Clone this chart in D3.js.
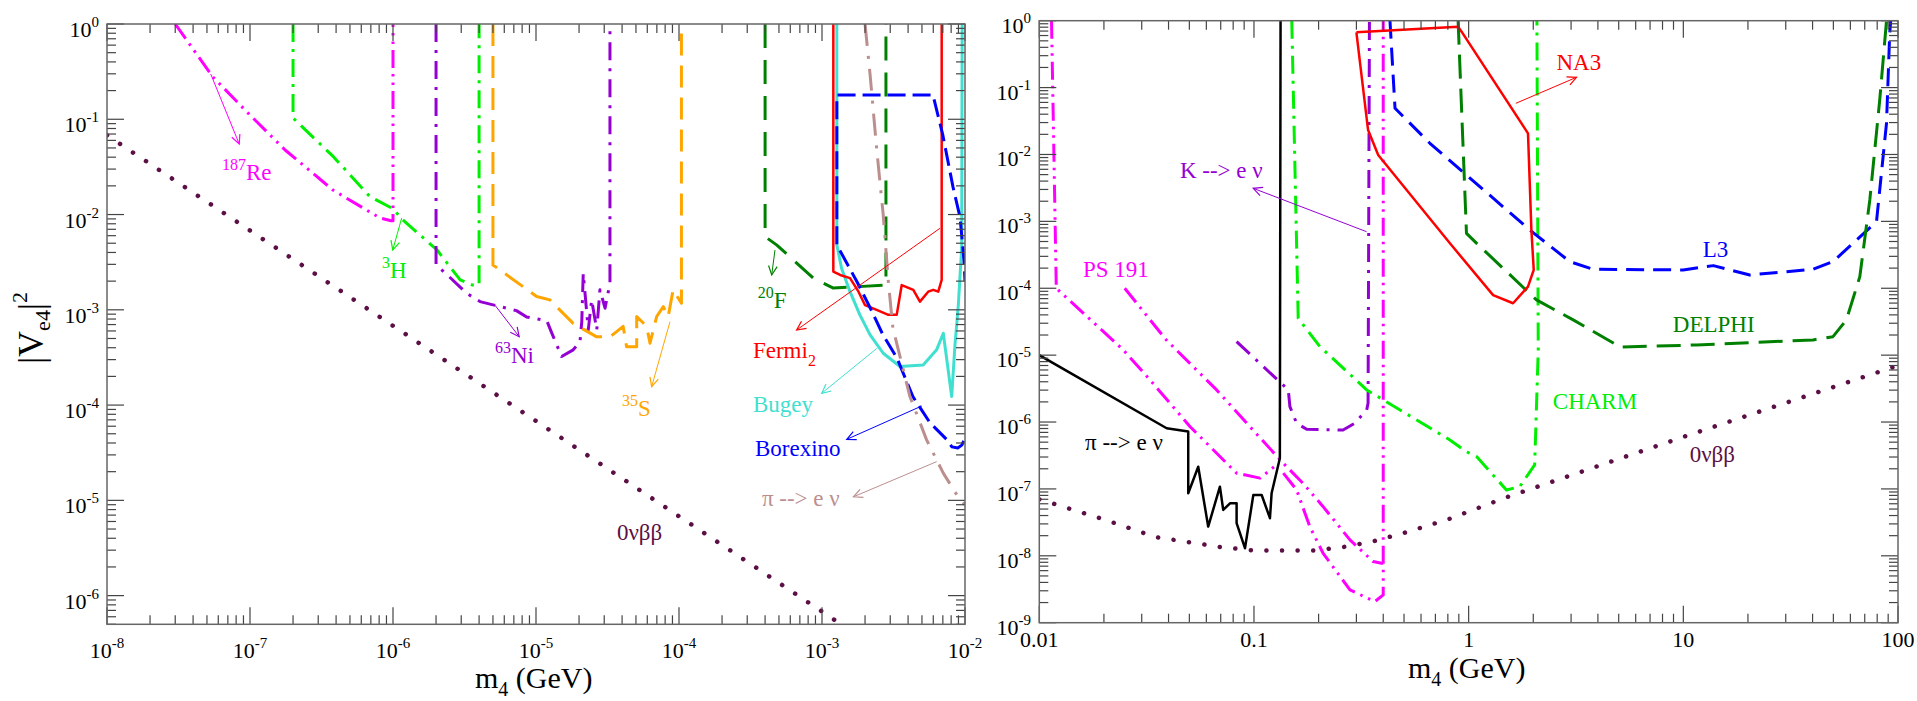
<!DOCTYPE html>
<meta charset="utf-8">
<style>
  body { margin: 0; background: #fff; }
  text { font-family: "Liberation Serif", "Times New Roman", serif; }
  .frame { fill: none; stroke: #666; stroke-width: 1.5; }
  .tick { stroke: #444; stroke-width: 1.2; }
</style>
<svg width="1917" height="701"></svg>
<script src="https://d3js.org/d3.v7.min.js"></script>
<script>

// ---------- left panel: m4 in GeV, |Ve4|^2 ----------
var leftXTicks = [1e-8, 1e-7, 1e-6, 1e-5, 1e-4, 1e-3, 1e-2];
var leftYTicks = [1, 1e-1, 1e-2, 1e-3, 1e-4, 1e-5, 1e-6];

var re187 = [[3e-8,1],[5.5e-8,0.278],[9.7e-8,0.116],[1.76e-7,0.0476],[3.8e-7,0.0181],[8.1e-7,0.0092],[9.7e-7,0.0086],[1e-6,0.0086],[1e-6,1]];
var h3 = [[2e-7,1],[2e-7,0.103],[3.83e-7,0.0405],[6.9e-7,0.0154],[1e-6,0.0115],[1.17e-6,8.8e-3],[2.03e-6,4.25e-3],[2.95e-6,2.06e-3],[3.6e-6,1.82e-3],[4e-6,1.82e-3],[4e-6,1]];
var ni63 = [[2e-6,1],[2e-6,2.96e-3],[2.44e-6,2.27e-3],[3.27e-6,1.49e-3],[4.06e-6,1.22e-3],[7.3e-6,9.8e-4],[8.6e-6,8.4e-4],[1.19e-5,7.7e-4],[1.29e-5,5.7e-4],[1.51e-5,3.23e-4],[1.82e-5,3.8e-4],[2.03e-5,4.6e-4],[2.09e-5,7.5e-4],[2.14e-5,2.42e-3],[2.32e-5,6.15e-4],[2.45e-5,1.27e-3],[2.66e-5,6.15e-4],[2.8e-5,1.62e-3],[3.04e-5,1.04e-3],[3.29e-5,1.9e-3],[3.29e-5,1]];
var s35 = [[5e-6,1],[5e-6,2.96e-3],[1.01e-5,1.38e-3],[1.25e-5,1.27e-3],[1.82e-5,7.2e-4],[2.66e-5,5.2e-4],[3.29e-5,5.2e-4],[4.07e-5,6.7e-4],[4.3e-5,4.1e-4],[5.06e-5,4.1e-4],[5.06e-5,8.5e-4],[5.94e-5,6.7e-4],[6.27e-5,4.46e-4],[6.98e-5,8.5e-4],[7.77e-5,1.08e-3],[8.4e-5,8.5e-4],[9.1e-5,1.62e-3],[1.04e-4,1.17e-3],[1.04e-4,1]];
var f20 = [[4e-4,1],[4e-4,5.86e-3],[4.81e-4,4.8e-3],[5.96e-4,3.6e-3],[8.69e-4,2.15e-3],[1.2e-3,1.69e-3],[2.8e-3,1.82e-3],[2.8e-3,1]];
var fermi2 = [[1.2e-3,1],[1.2e-3,2.52e-3],[1.34e-3,2.32e-3],[1.57e-3,2.15e-3],[1.8e-3,1.55e-3],[2e-3,1.12e-3],[2.41e-3,9.97e-4],[2.91e-3,8.85e-4],[3.33e-3,8.85e-4],[3.61e-3,1.82e-3],[4.35e-3,1.62e-3],[4.84e-3,1.22e-3],[5.53e-3,1.55e-3],[6e-3,1.62e-3],[6.5e-3,1.55e-3],[6.87e-3,2.06e-3],[6.87e-3,1]];
var bugey = [[1.27e-3,1],[1.27e-3,4.8e-3],[1.37e-3,2.73e-3],[1.57e-3,1.55e-3],[1.84e-3,8.85e-4],[2.17e-3,5.46e-4],[2.68e-3,3.5e-4],[3.51e-3,2.54e-4],[5.1e-3,2.64e-4],[6.33e-3,3.8e-4],[7.05e-3,5.68e-4],[8.07e-3,1.23e-4],[8.51e-3,4.28e-4],[8.98e-3,1.12e-3],[9.48e-3,4.46e-3],[9.55e-3,1]];
var borexino = [[9.8e-3,4.2e-5],[9.5e-3,3.8e-5],[8.9e-3,3.55e-5],[8.1e-3,3.64e-5],[7.5e-3,4.3e-5],[5.7e-3,6.5e-5],[4.33e-3,1.22e-4],[3.34e-3,3.13e-4],[2.67e-3,5.45e-4],[2.17e-3,1.05e-3],[1.76e-3,1.96e-3],[1.27e-3,4.8e-3],[1.27e-3,0.18],[5.97e-3,0.18],[7.0e-3,0.068],[8.24e-3,0.0195],[9.23e-3,9.4e-3],[9.84e-3,3.3e-3],[1e-2,2e-3]];
var pienuL = [[2e-3,1],[2.17e-3,0.292],[2.41e-3,0.0496],[2.68e-3,9.9e-3],[2.91e-3,1.98e-3],[3.15e-3,5.9e-4],[3.24e-3,5.24e-4],[4.12e-3,1.23e-4],[5.39e-3,4.31e-5],[7.05e-3,1.93e-5],[9.23e-3,1.01e-5],[1e-2,9e-6]];
var bb0nuL = [[1e-8,0.068],[1.4e-3,4.86e-7]];

// ---------- right panel ----------
var rightXTicks = [0.01, 0.1, 1, 10, 100];
var rightXLabels = ["0.01", "0.1", "1", "10", "100"];
var rightYTicks = [1, 1e-1, 1e-2, 1e-3, 1e-4, 1e-5, 1e-6, 1e-7, 1e-8, 1e-9];

var pienuR = [[0.01,1e-5],[0.0392,8.07e-7],[0.0494,7.2e-7],[0.0494,8.6e-8],[0.055,2.15e-7],[0.0612,2.73e-8],[0.0694,1.08e-7],[0.0719,4.85e-8],[0.0773,6.1e-8],[0.083,6.1e-8],[0.083,3.07e-8],[0.0908,1.3e-8],[0.0993,8.1e-8],[0.1086,8.1e-8],[0.1187,3.65e-8],[0.1208,8.6e-8],[0.132,2.88e-7],[0.133,1]];
var ps191a = [[0.0114,1],[0.012,1e-4],[0.0246,1.2e-5],[0.0328,4.26e-6],[0.0504,8.5e-7],[0.083,1.72e-7],[0.1067,1.45e-7],[0.13,2.42e-7]];
var ps191b = [[0.025,1e-4],[0.039,1.69e-5],[0.067,3.02e-6],[0.0958,8.5e-7],[0.137,2.42e-7],[0.169,1.22e-7],[0.21,5.43e-8],[0.28,1.73e-8],[0.359,8.2e-9],[0.393,7.75e-9],[0.4,7.75e-9]];
var ps191c = [[0.137,1.72e-7],[0.158,9.66e-8],[0.182,2.73e-8],[0.21,1.09e-8],[0.28,3.09e-9],[0.366,2.07e-9],[0.4,2.6e-9],[0.4,1]];
var kenu = [[0.083,1.59e-5],[0.1445,3.02e-6],[0.147,1.7e-6],[0.158,9.6e-7],[0.176,7.8e-7],[0.26,7.6e-7],[0.295,9.6e-7],[0.335,1.52e-6],[0.34,1.91e-6],[0.345,1]];
var charm = [[0.15,1],[0.1607,3.56e-5],[0.203,1.34e-5],[0.335,3.02e-6],[0.818,5.4e-7],[0.977,3.6e-7],[1.089,3.04e-7],[1.5,9.66e-8],[1.73,1.08e-7],[2.03,2.29e-7],[2.11,1.2e-5],[2.08,1]];
var na3 = [[0.3,0.67],[0.893,0.813],[0.927,0.685],[1.89,0.0207],[1.96,7.4e-4],[2.01,1.88e-4],[1.89,1.06e-4],[1.61,5.97e-5],[1.3,7.9e-5],[0.818,4.7e-4],[0.379,9.8e-3],[0.34,0.0232],[0.3,0.67]];
var l3 = [[0.43,1],[0.454,0.049],[0.66,0.0147],[1.93,7.4e-4],[2.96,2.5e-4],[3.8,1.92e-4],[9.98,1.88e-4],[13.8,2.18e-4],[20.4,1.58e-4],[40.2,1.92e-4],[49.8,2.5e-4],[79.4,9.9e-4],[88.4,0.0293],[91.5,0.65],[92.5,1]];
var delphi = [[0.893,1],[0.977,6.6e-4],[1.09,4.7e-4],[2.07,6.7e-5],[3.07,3.36e-5],[5.1,1.32e-5],[11.5,1.42e-5],[40.2,1.69e-5],[49.8,1.89e-5],[57.5,3.36e-5],[66.4,1.49e-4],[73.9,2.09e-3],[82.2,0.0653],[88.4,1]];
var bb0nuR = [[0.01,7e-8],[0.02,3.5e-8],[0.035,1.9e-8],[0.07,1.35e-8],[0.1,1.2e-8],[0.19,1.2e-8],[0.26,1.35e-8],[0.36,1.65e-8],[0.5,2.2e-8],[0.8,3.5e-8],[1.5,7.5e-8],[10,6e-7],[100,7e-6]];

// annotation anchors (data coords)
var leftLabels = [
  {at:[6.37e-8,0.023], color:"#ff00ff", parts:[["187","sup"],["Re",""]]},
  {at:[8.37e-7,2.16e-3], color:"#00ee00", parts:[["3","sup"],["H",""]]},
  {at:[5.16e-6,2.77e-4], color:"#9400d3", parts:[["63","sup"],["Ni",""]]},
  {at:[3.99e-5,7.68e-5], color:"#ffa500", parts:[["35","sup"],["S",""]]},
  {at:[3.56e-4,1.04e-3], color:"#008000", parts:[["20","sup"],["F",""]]},
  {at:[3.29e-4,3.12e-4], color:"#ff0000", parts:[["Fermi",""],["2","sub"]]},
  {at:[3.29e-4,8.52e-5], color:"#40e0d0", parts:[["Bugey",""]]},
  {at:[3.4e-4,2.92e-5], color:"#0000ff", parts:[["Borexino",""]]},
  {at:[3.8e-4,8.79e-6], color:"#bc8f8f", parts:[["\u03c0 --> e \u03bd",""]]},
  {at:[3.68e-5,3.84e-6], color:"#5c0f45", parts:[["0\u03bd\u03b2\u03b2",""]]}
];
var leftArrows = [
  {from:[5.31e-8,0.299], to:[8.41e-8,0.055], color:"#ff00ff"},
  {from:[1.15e-6,9.2e-3], to:[9.96e-7,4.24e-3], color:"#00ee00"},
  {from:[5.16e-6,1.12e-3], to:[7.63e-6,5.22e-4], color:"#9400d3"},
  {from:[8.65e-5,7.5e-4], to:[6.44e-5,1.56e-4], color:"#ffa500"},
  {from:[4.69e-4,4.24e-3], to:[4.45e-4,2.32e-3], color:"#008000"},
  {from:[6.68e-3,7.17e-3], to:[6.65e-4,6.14e-4], color:"#ff0000"},
  {from:[2.42e-3,3.94e-4], to:[9.95e-4,1.33e-4], color:"#40e0d0"},
  {from:[4.98e-3,9.78e-5], to:[1.49e-3,4.37e-5], color:"#0000ff"},
  {from:[6.34e-3,2.55e-5], to:[1.66e-3,1.09e-5], color:"#bc8f8f"}
];
var rightLabels = [
  {at:[0.0452,4.45e-3], color:"#9400d3", parts:[["K --> e \u03bd",""]]},
  {at:[0.01598,1.49e-4], color:"#ff00ff", parts:[["PS 191",""]]},
  {at:[0.01633,3.82e-7], color:"#000000", parts:[["\u03c0 --> e \u03bd",""]]},
  {at:[2.566,0.1833], color:"#ff0000", parts:[["NA3",""]]},
  {at:[12.32,2.96e-4], color:"#0000ff", parts:[["L3",""]]},
  {at:[8.93,2.24e-5], color:"#008000", parts:[["DELPHI",""]]},
  {at:[2.466,1.55e-6], color:"#00ee00", parts:[["CHARM",""]]},
  {at:[10.7,2.55e-7], color:"#5c0f45", parts:[["0\u03bd\u03b2\u03b2",""]]}
];
var rightArrows = [
  {from:[0.3345,7.01e-4], to:[0.0992,3.12e-3], color:"#9400d3"},
  {from:[1.659,0.0582], to:[3.18,0.1425], color:"#ff0000"}
];

var svg = d3.select("svg");

var xL = d3.scaleLog().domain([1e-8, 1e-2]).range([107, 965]);
var yL = d3.scaleLog().domain([5e-7, 1]).range([624.3, 24]);
var xR = d3.scaleLog().domain([0.01, 100]).range([1039.3, 1898]);
var yR = d3.scaleLog().domain([1e-9, 1]).range([622.7, 20.7]);

var dotted = {dash:"0.1,15.5", cap:"round", width:4.5};

var leftCurves = [
  {data:bb0nuL, color:"#5c0f45", width:dotted.width, dash:dotted.dash, cap:"round"},
  {data:re187, color:"#ff00ff", width:3, dash:"18,6,2.5,6,2.5,6"},
  {data:h3, color:"#00ee00", width:3, dash:"18,7,3,7"},
  {data:ni63, color:"#9400d3", width:3, dash:"18,8,3,8"},
  {data:s35, color:"#ffa500", width:3, dash:"22,10"},
  {data:f20, color:"#008000", width:3, dash:"24,12"},
  {data:bugey, color:"#40e0d0", width:3},
  {data:fermi2, color:"#ff0000", width:2.5},
  {data:borexino, color:"#0000ff", width:3, dash:"18,7"},
  {data:pienuL, color:"#bc8f8f", width:3, dash:"22,10,3,10"}
];
var rightCurves = [
  {data:bb0nuR, color:"#5c0f45", width:dotted.width, dash:dotted.dash, cap:"round"},
  {data:ps191a, color:"#ff00ff", width:3, dash:"18,6,2.5,6,2.5,6"},
  {data:ps191b, color:"#ff00ff", width:3, dash:"18,6,2.5,6,2.5,6"},
  {data:ps191c, color:"#ff00ff", width:3, dash:"18,6,2.5,6,2.5,6"},
  {data:kenu, color:"#9400d3", width:3, dash:"18,8,3,8"},
  {data:charm, color:"#00ee00", width:3, dash:"18,7,3,7"},
  {data:l3, color:"#0000ff", width:3, dash:"18,9"},
  {data:delphi, color:"#008000", width:3, dash:"24,10"},
  {data:na3, color:"#ff0000", width:2.5},
  {data:pienuR, color:"#000000", width:2.5}
];

function addClip(id, x, y) {
  svg.append("clipPath").attr("id", id).append("rect")
    .attr("x", x.range()[0]).attr("y", y.range()[1])
    .attr("width", x.range()[1] - x.range()[0])
    .attr("height", y.range()[0] - y.range()[1]);
}

function drawCurves(x, y, clipId, curves) {
  var line = d3.line().x(d => x(d[0])).y(d => y(d[1]));
  var g = svg.append("g").attr("clip-path", "url(#" + clipId + ")");
  curves.forEach(c => {
    g.append("path")
      .attr("d", line(c.data))
      .attr("fill", "none")
      .attr("stroke", c.color)
      .attr("stroke-width", c.width)
      .attr("stroke-dasharray", c.dash || null)
      .attr("stroke-linecap", c.cap || "butt")
      .attr("stroke-linejoin", "round");
  });
}

function logTicks(dom) {
  var out = [];
  var lo = Math.floor(Math.log10(dom[0]) + 1e-9), hi = Math.ceil(Math.log10(dom[1]) - 1e-9);
  for (var e = lo; e <= hi; e++) {
    for (var k = 1; k < 10; k++) {
      var v = k * Math.pow(10, e);
      if (v >= dom[0] * 0.999 && v <= dom[1] * 1.001) out.push({v: v, major: k == 1});
    }
  }
  return out;
}

function expLabel(sel, v) {
  sel.text("10");
  sel.append("tspan").attr("dy", -10).attr("font-size", 15).text(Math.round(Math.log10(v)));
}

function drawFrame(x, y) {
  var x0 = x.range()[0], x1 = x.range()[1], y0 = y.range()[0], y1 = y.range()[1];
  var g = svg.append("g");
  logTicks(x.domain()).forEach(t => {
    var px = x(t.v), len = t.major ? 17 : 9;
    g.append("line").attr("class", "tick").attr("x1", px).attr("x2", px).attr("y1", y0).attr("y2", y0 - len);
    g.append("line").attr("class", "tick").attr("x1", px).attr("x2", px).attr("y1", y1).attr("y2", y1 + len);
  });
  logTicks(y.domain()).forEach(t => {
    var py = y(t.v), len = t.major ? 17 : 9;
    g.append("line").attr("class", "tick").attr("y1", py).attr("y2", py).attr("x1", x0).attr("x2", x0 + len);
    g.append("line").attr("class", "tick").attr("y1", py).attr("y2", py).attr("x1", x1).attr("x2", x1 - len);
  });
  g.append("rect").attr("class", "frame")
    .attr("x", x0).attr("y", y1).attr("width", x1 - x0).attr("height", y0 - y1);
}

function drawLabels(x, y, labels) {
  labels.forEach(l => {
    var t = svg.append("text")
      .attr("x", x(l.at[0])).attr("y", y(l.at[1]))
      .attr("fill", l.color).attr("font-size", 23);
    var off = 0;
    l.parts.forEach(p => {
      var target = p[1] == "sup" ? -10 : (p[1] == "sub" ? 8 : 0);
      t.append("tspan")
        .attr("dy", target - off)
        .attr("font-size", p[1] ? 16 : 23)
        .text(p[0]);
      off = target;
    });
  });
}

function drawArrows(x, y, arrows) {
  arrows.forEach(a => {
    var fx = x(a.from[0]), fy = y(a.from[1]), tx = x(a.to[0]), ty = y(a.to[1]);
    var ang = Math.atan2(ty - fy, tx - fx), L = 10, w = 0.45;
    svg.append("line")
      .attr("x1", fx).attr("y1", fy).attr("x2", tx).attr("y2", ty)
      .attr("stroke", a.color).attr("stroke-width", 1);
    svg.append("path")
      .attr("d", "M" + (tx - L * Math.cos(ang - w)) + "," + (ty - L * Math.sin(ang - w)) +
        "L" + tx + "," + ty +
        "L" + (tx - L * Math.cos(ang + w)) + "," + (ty - L * Math.sin(ang + w)))
      .attr("fill", "none").attr("stroke", a.color).attr("stroke-width", 1.2);
  });
}

// left panel
addClip("clipL", xL, yL);
drawCurves(xL, yL, "clipL", leftCurves);
drawFrame(xL, yL);
drawArrows(xL, yL, leftArrows);
drawLabels(xL, yL, leftLabels);

svg.append("g").selectAll("text").data(leftXTicks).enter().append("text")
  .attr("x", d => xL(d)).attr("y", 658).attr("text-anchor", "middle").attr("font-size", 22)
  .each(function(d) { expLabel(d3.select(this), d); });
svg.append("g").selectAll("text").data(leftYTicks).enter().append("text")
  .attr("x", 99).attr("y", d => yL(d) + 13).attr("text-anchor", "end").attr("font-size", 22)
  .each(function(d) { expLabel(d3.select(this), d); });

// right panel
addClip("clipR", xR, yR);
drawCurves(xR, yR, "clipR", rightCurves);
drawFrame(xR, yR);
drawArrows(xR, yR, rightArrows);
drawLabels(xR, yR, rightLabels);

svg.append("g").selectAll("text").data(rightXTicks).enter().append("text")
  .attr("x", d => xR(d)).attr("y", 647).attr("text-anchor", "middle").attr("font-size", 22)
  .text((d, i) => rightXLabels[i]);
svg.append("g").selectAll("text").data(rightYTicks).enter().append("text")
  .attr("x", 1031).attr("y", d => yR(d) + 12).attr("text-anchor", "end").attr("font-size", 22)
  .each(function(d) { expLabel(d3.select(this), d); });

// axis titles
function xTitle(x0, y0) {
  var t = svg.append("text").attr("x", x0).attr("y", y0).attr("font-size", 30);
  t.append("tspan").text("m");
  t.append("tspan").attr("dy", 8).attr("font-size", 20).text("4");
  t.append("tspan").attr("dy", -8).text(" (GeV)");
}
xTitle(475, 688);
xTitle(1408, 678);

var yt = svg.append("text").attr("transform", "translate(43,328) rotate(-90)")
  .attr("text-anchor", "middle").attr("font-size", 36);
yt.append("tspan").text("|V");
yt.append("tspan").attr("dy", 7).attr("font-size", 22).text("e4");
yt.append("tspan").attr("dy", -7).text("|");
yt.append("tspan").attr("dy", -16).attr("font-size", 22).text("2");

</script>
